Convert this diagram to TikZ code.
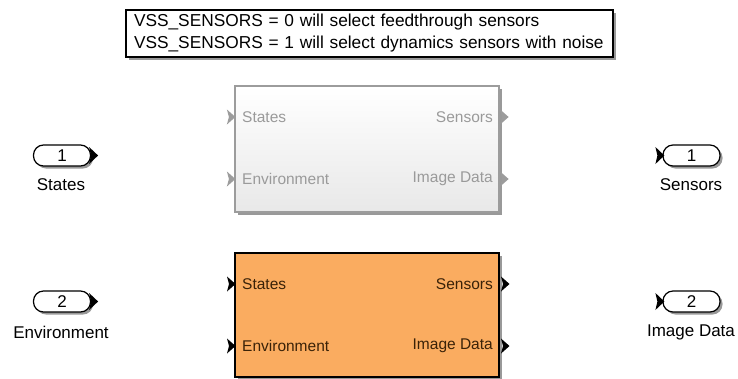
\documentclass[tikz,border=0pt]{standalone}
\usepackage{fontspec}
\setmainfont{Liberation Sans}
\usetikzlibrary{shadows}
\definecolor{blkorange}{HTML}{FAAC60}
\definecolor{blkgraytext}{HTML}{9A9A9A}
\definecolor{blkgrayline}{HTML}{9C9C9C}
\definecolor{orangetext}{HTML}{3A2208}
\tikzset{
  softshadow/.style={drop shadow={shadow xshift=2.5pt, shadow yshift=-2.5pt, opacity=0.4, fill=black}},
  notebox/.style={draw=black, line width=1.2pt, fill=white, softshadow,
    font=\fontsize{17.3}{22}\selectfont, align=left, inner xsep=8pt, inner ysep=3pt,
    minimum width=487pt, minimum height=47pt, text width=471pt},
  variantoff/.style={draw=blkgrayline, line width=1.2pt, top color=white, bottom color=black!9,
    minimum width=264pt, minimum height=126pt, softshadow},
  varianton/.style={draw=black, line width=2pt, fill=blkorange,
    minimum width=264pt, minimum height=124pt, softshadow},
  portoff/.style={font=\fontsize{15.5}{18}\selectfont, text=blkgraytext, inner sep=0pt},
  porton/.style={font=\fontsize{15.5}{18}\selectfont, text=orangetext, inner sep=0pt},
  pill/.style={draw=black, line width=1.2pt, fill=white, rounded corners=10pt,
    minimum width=57pt, minimum height=21pt, inner sep=0pt, softshadow,
    font=\fontsize{17}{20}\selectfont},
  portname/.style={font=\fontsize{17}{20}\selectfont, inner sep=0pt},
  chev/.pic={\fill (0,-7.5) -- (8.5,0) -- (0,7.5) -- (2,0) -- cycle;},
  bigchev/.pic={\fill (0,-8.5) -- (9,0) -- (0,8.5) -- (2,0) -- cycle;}
}
\begin{document}
\begin{tikzpicture}[x=1pt,y=-1pt]
\useasboundingbox[fill=white] (0,0) rectangle (738,378);

% annotation
\node[notebox] (note) at (369.5,33.5)
  {VSS\_SENSORS = 0 will select feedthrough sensors\\
   VSS\_SENSORS = 1 will select dynamics sensors with noise};

% inactive variant (feedthrough)
\node[variantoff] (ft) at (367,149) {};
\node[portoff, anchor=west] (ftS) at (242,117) {States};
\node[portoff, anchor=west] (ftE) at (242,179) {Environment};
\node[portoff, anchor=east] (ftSo) at (493,117) {Sensors};
\node[portoff, anchor=east] (ftIo) at (493,179) {Image Data};
\pic[blkgrayline] at (ft.west |- ftS) [xshift=-7.5pt] {chev};
\pic[blkgrayline] at (ft.west |- ftE) [xshift=-7.5pt] {chev};
\pic[blkgrayline] at (ft.east |- ftSo) [xshift=0.5pt] {chev};
\pic[blkgrayline] at (ft.east |- ftIo) [xshift=0.5pt] {chev};

% active variant (dynamics)
\node[varianton] (dyn) at (367,315) {};
\node[porton, anchor=west] (dynS) at (242,284) {States};
\node[porton, anchor=west] (dynE) at (242,346) {Environment};
\node[porton, anchor=east] (dynSo) at (493,284) {Sensors};
\node[porton, anchor=east] (dynIo) at (493,346) {Image Data};
\pic[black] at (dyn.west |- dynS) [xshift=-7pt] {chev};
\pic[black] at (dyn.west |- dynE) [xshift=-7pt] {chev};
\pic[black] at (dyn.east |- dynSo) [xshift=1pt] {chev};
\pic[black] at (dyn.east |- dynIo) [xshift=1pt] {chev};

% inports
\node[pill] (in1) at (62,155.5) {1};
\pic[black] at (in1.east) [xshift=-2pt] {bigchev};
\node[portname] (in1l) at (61,185) {States};
\node[pill] (in2) at (62,301.5) {2};
\pic[black] at (in2.east) [xshift=-2pt] {bigchev};
\node[portname] (in2l) at (61,332) {Environment};

% outports
\node[pill] (out1) at (691.5,155.5) {1};
\pic[black] at (out1.west) [xshift=-7pt] {bigchev};
\node[portname] (out1l) at (691,185) {Sensors};
\node[pill] (out2) at (691.5,301.5) {2};
\pic[black] at (out2.west) [xshift=-7pt] {bigchev};
\node[portname] (out2l) at (691,332) {Image Data};
\end{tikzpicture}
\end{document}
